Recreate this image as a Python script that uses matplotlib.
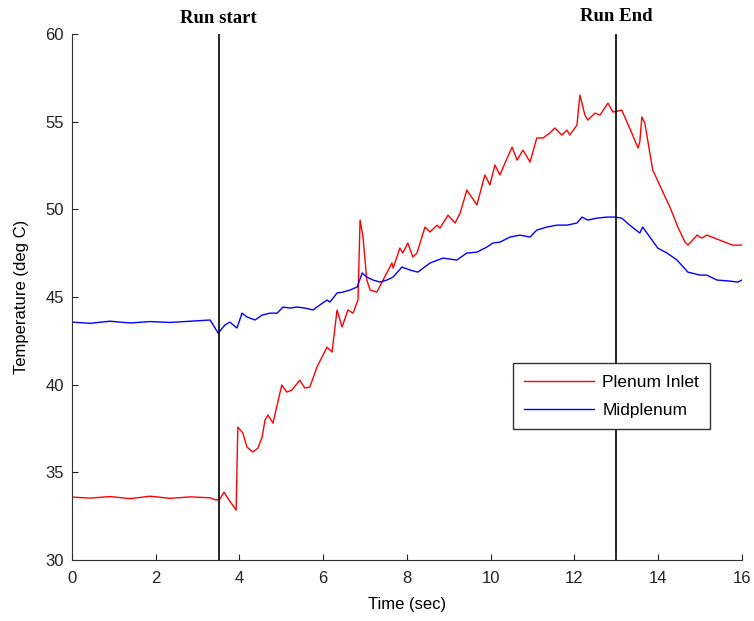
import matplotlib
matplotlib.use("Agg")
import matplotlib.pyplot as plt
from matplotlib.transforms import blended_transform_factory

# Plenum inlet (red)
inlet_t = [0.0, 0.43, 0.91, 1.39, 1.86, 2.34, 2.82, 3.30, 3.44, 3.53, 3.63, 3.75, 3.92,
           3.94, 3.96, 4.08, 4.18, 4.32, 4.44, 4.54, 4.61, 4.68, 4.80, 5.01, 5.13, 5.25,
           5.44, 5.56, 5.68, 5.85, 6.09, 6.21, 6.33, 6.45, 6.59, 6.71, 6.83, 6.88, 6.95,
           7.04, 7.12, 7.28, 7.43, 7.64, 7.67, 7.83, 7.90, 8.02, 8.14, 8.24, 8.43, 8.55,
           8.72, 8.79, 8.98, 9.15, 9.27, 9.43, 9.67, 9.86, 9.98, 10.10, 10.22, 10.29,
           10.51, 10.63, 10.77, 10.94, 11.10, 11.25, 11.41, 11.53, 11.70, 11.82, 11.89,
           12.06, 12.13, 12.25, 12.32, 12.49, 12.61, 12.80, 12.92, 13.13, 13.37, 13.52,
           13.56, 13.61, 13.68, 13.87, 14.09, 14.28, 14.47, 14.64, 14.71, 14.93, 15.04,
           15.16, 15.35, 15.59, 15.78, 16.0]
inlet_T = [33.59, 33.53, 33.62, 33.50, 33.64, 33.52, 33.60, 33.55, 33.42, 33.47, 33.87,
           33.42, 32.85, 35.24, 37.58, 37.24, 36.44, 36.16, 36.38, 37.01, 37.98, 38.27,
           37.81, 39.98, 39.58, 39.69, 40.26, 39.81, 39.86, 41.00, 42.14, 41.86, 44.26,
           43.29, 44.26, 44.08, 44.83, 49.39, 48.42, 45.97, 45.40, 45.28, 45.97, 46.94,
           46.65, 47.79, 47.51, 48.08, 47.28, 47.51, 48.99, 48.71, 49.10, 48.93, 49.67,
           49.22, 49.79, 51.10, 50.25, 51.96, 51.39, 52.53, 51.96, 52.36, 53.55, 52.81,
           53.38, 52.70, 54.07, 54.07, 54.35, 54.64, 54.24, 54.52, 54.24, 54.81, 56.52,
           55.38, 55.09, 55.49, 55.38, 56.06, 55.55, 55.66, 54.35, 53.50, 53.84, 55.27,
           54.92, 52.24, 51.10, 50.13, 48.99, 48.13, 47.96, 48.53, 48.36, 48.53, 48.36,
           48.13, 47.96, 47.96]

# Midplenum (blue)
mid_t = [0.0, 0.43, 0.91, 1.39, 1.86, 2.34, 2.82, 3.30, 3.49, 3.65, 3.77, 3.94, 4.06,
         4.18, 4.37, 4.54, 4.73, 4.90, 5.04, 5.21, 5.37, 5.56, 5.76, 5.85, 6.09, 6.16,
         6.33, 6.47, 6.64, 6.81, 6.93, 7.04, 7.19, 7.36, 7.52, 7.67, 7.88, 8.07, 8.26,
         8.55, 8.86, 9.19, 9.43, 9.67, 9.91, 10.05, 10.22, 10.46, 10.70, 10.94, 11.10,
         11.34, 11.58, 11.82, 12.06, 12.18, 12.32, 12.54, 12.78, 12.97, 13.13, 13.32,
         13.56, 13.63, 13.80, 13.99, 14.21, 14.45, 14.71, 15.00, 15.16, 15.40, 15.71,
         15.90, 16.0]
mid_T = [43.57, 43.50, 43.62, 43.52, 43.60, 43.55, 43.62, 43.69, 42.94, 43.40, 43.57,
         43.23, 44.08, 43.86, 43.69, 43.97, 44.08, 44.08, 44.43, 44.37, 44.43, 44.37,
         44.26, 44.43, 44.83, 44.71, 45.23, 45.28, 45.40, 45.57, 46.37, 46.14, 45.97,
         45.85, 45.97, 46.14, 46.71, 46.54, 46.42, 46.94, 47.22, 47.11, 47.51, 47.56,
         47.85, 48.08, 48.13, 48.42, 48.53, 48.42, 48.82, 48.99, 49.10, 49.10, 49.22,
         49.56, 49.39, 49.50, 49.56, 49.56, 49.50, 49.10, 48.65, 48.99, 48.42, 47.79,
         47.51, 47.11, 46.42, 46.25, 46.25, 45.97, 45.91, 45.85, 45.97]

run_marks = [3.5, 13.0]
run_labels = ["Run start", "Run End"]

plt.rcParams["font.family"] = ["Liberation Sans Narrow", "Liberation Sans", "DejaVu Sans"]

fig = plt.figure(figsize=(7.54, 6.21), dpi=100)
ax = fig.add_axes([0.0955, 0.0982, 0.8885, 0.8470])

ax.plot(inlet_t, inlet_T, color="#ff0000", lw=1.0, label="Plenum Inlet")
ax.plot(mid_t, mid_T, color="#0000ff", lw=1.0, label="Midplenum")

trans = blended_transform_factory(ax.transData, ax.transAxes)
for x, lab, yoff in zip(run_marks, run_labels, [1.029, 1.034]):
    ax.axvline(x, color="k", lw=1.2)
    ax.text(x, yoff, lab, transform=trans, ha="center", va="center",
            fontsize=13.5, fontweight="bold", family="Liberation Serif")

ax.set_xlim(0, 16)
ax.set_ylim(30, 60)
ax.set_xticks(range(0, 17, 2))
ax.set_yticks(range(30, 61, 5))
ax.spines["top"].set_visible(False)
ax.spines["right"].set_visible(False)
for sp in ("left", "bottom"):
    ax.spines[sp].set_color("#333333")
ax.tick_params(direction="in", length=4, labelsize=12, colors="#222222")
ax.tick_params(axis="x", pad=8)
ax.tick_params(axis="y", pad=6)
ax.set_xlabel("Time (sec)", fontsize=12, labelpad=8)
ax.set_ylabel("Temperature (deg C)", fontsize=12, labelpad=12)

leg = ax.legend(loc="lower left", bbox_to_anchor=(0.658, 0.249), borderaxespad=0,
                fancybox=False, edgecolor="#333333", fontsize=12.5, handlelength=4.0,
                labelspacing=0.75, borderpad=0.65, handletextpad=0.5, framealpha=1)
leg.get_frame().set_linewidth(1.0)

fig.savefig("out.png", dpi=100)
